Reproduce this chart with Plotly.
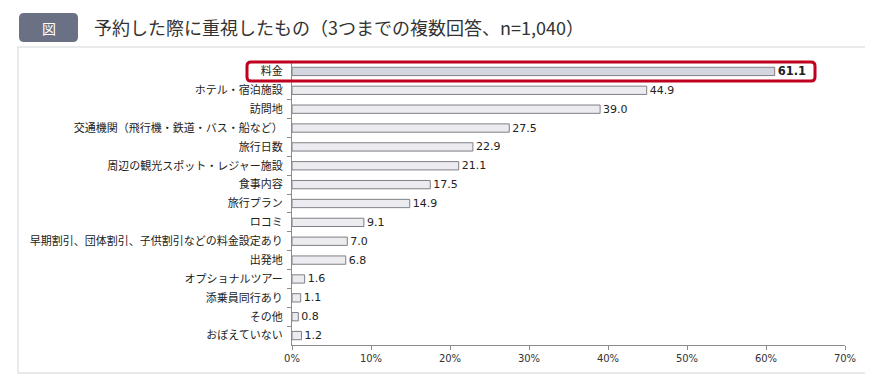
import plotly.graph_objects as go

categories = ["料金", "ホテル・宿泊施設", "訪問地", "交通機関（飛行機・鉄道・バス・船など）", "旅行日数",
              "周辺の観光スポット・レジャー施設", "食事内容", "旅行プラン", "ロコミ",
              "早期割引、団体割引、子供割引などの料金設定あり", "出発地", "オプショナルツアー",
              "添乗員同行あり", "その他", "おぼえていない"]
values = [61.1, 44.9, 39.0, 27.5, 22.9, 21.1, 17.5, 14.9, 9.1, 7.0, 6.8, 1.6, 1.1, 0.8, 1.2]
x_ticks = [0, 10, 20, 30, 40, 50, 60, 70]
x_tick_labels = ["0%", "10%", "20%", "30%", "40%", "50%", "60%", "70%"]
title = "予約した際に重視したもの（3つまでの複数回答、n=1,040）"

# the page body has an 8px default margin; compensate so the figure lands where intended
OFF = 8
W, H = 873 - OFF, 379 - OFF
ML, MR, MT, MB = 292 - OFF, 28, 62 - OFF, 34
PW, PH = W - ML - MR, H - MT - MB
FONT = "Noto Sans CJK JP"
NUMFONT = "DejaVu Sans"


def px(xp):
    return (xp - OFF - ML) / PW


def py(yp):
    return (H - MB - (yp - OFF)) / PH


def rounded(x0, y0, x1, y1, r):
    X0, X1 = px(x0), px(x1)
    Y0, Y1 = py(y0), py(y1)
    rx, ry = r / PW, r / PH
    return (f"M {X0+rx},{Y0} L {X1-rx},{Y0} Q {X1},{Y0} {X1},{Y0-ry} "
            f"L {X1},{Y1+ry} Q {X1},{Y1} {X1-rx},{Y1} L {X0+rx},{Y1} "
            f"Q {X0},{Y1} {X0},{Y1+ry} L {X0},{Y0-ry} Q {X0},{Y0} {X0+rx},{Y0} Z")


texts = [f"<b>{v:.1f}</b>" if i == 0 else f"{v:.1f}" for i, v in enumerate(values)]
fills = ["#d3d6de" if i == 0 else "#ececf0" for i in range(len(values))]
text_sizes = [11.5 if i == 0 else 11 for i in range(len(values))]

fig = go.Figure(go.Bar(
    x=values, y=categories, orientation="h",
    marker=dict(color=fills, line=dict(color="#7f7f86", width=1)),
    width=0.44,
    text=texts, textposition="outside", cliponaxis=False, constraintext="none",
    textfont=dict(family=NUMFONT, size=text_sizes, color="#222222"),
    hoverinfo="skip",
))

shapes = [
    dict(type="rect", xref="paper", yref="paper", x0=px(18), x1=px(867), y0=py(47), y1=py(373),
         line=dict(color="#e3e3e3", width=1.5), fillcolor="rgba(0,0,0,0)", layer="below"),
    dict(type="path", xref="paper", yref="paper", path=rounded(19, 13, 78, 42, 5),
         fillcolor="#6b7185", line=dict(width=0), layer="below"),
    dict(type="path", xref="paper", yref="paper", path=rounded(247, 62, 815, 81, 4),
         fillcolor="rgba(0,0,0,0)", line=dict(color="#c0001f", width=3), layer="above"),
]

annotations = [
    dict(text="図", x=px(48.5), y=py(27.5), xref="paper", yref="paper", showarrow=False,
         font=dict(family=FONT, size=14, color="white"), xanchor="center", yanchor="middle"),
    dict(text=title, x=px(92), y=py(27), xref="paper", yref="paper", showarrow=False,
         font=dict(family=FONT, size=18, color="#333333"), xanchor="left", yanchor="middle"),
]

fig.update_layout(
    width=W, height=H,
    margin=dict(l=ML, r=MR, t=MT, b=MB, pad=0, autoexpand=False),
    paper_bgcolor="white", plot_bgcolor="white",
    showlegend=False,
    shapes=shapes, annotations=annotations,
    xaxis=dict(range=[0, 70], tickvals=x_ticks, ticktext=x_tick_labels, showgrid=False,
               showline=True, linecolor="#8c8c8c", linewidth=1, ticks="outside", ticklen=4,
               tickcolor="#8c8c8c", zeroline=False, automargin=False,
               tickfont=dict(family=NUMFONT, size=10, color="#333333"), fixedrange=True),
    yaxis=dict(autorange="reversed", showgrid=False, showline=True, linecolor="#8c8c8c",
               linewidth=1, ticks="outside", ticklen=4, tickcolor="#8c8c8c",
               tickson="boundaries", ticklabelstandoff=6, automargin=False,
               tickfont=dict(family=FONT, size=11, color="#222222"), fixedrange=True),
    font=dict(family=FONT),
    bargap=0.5,
)

fig.write_html("out.html")
